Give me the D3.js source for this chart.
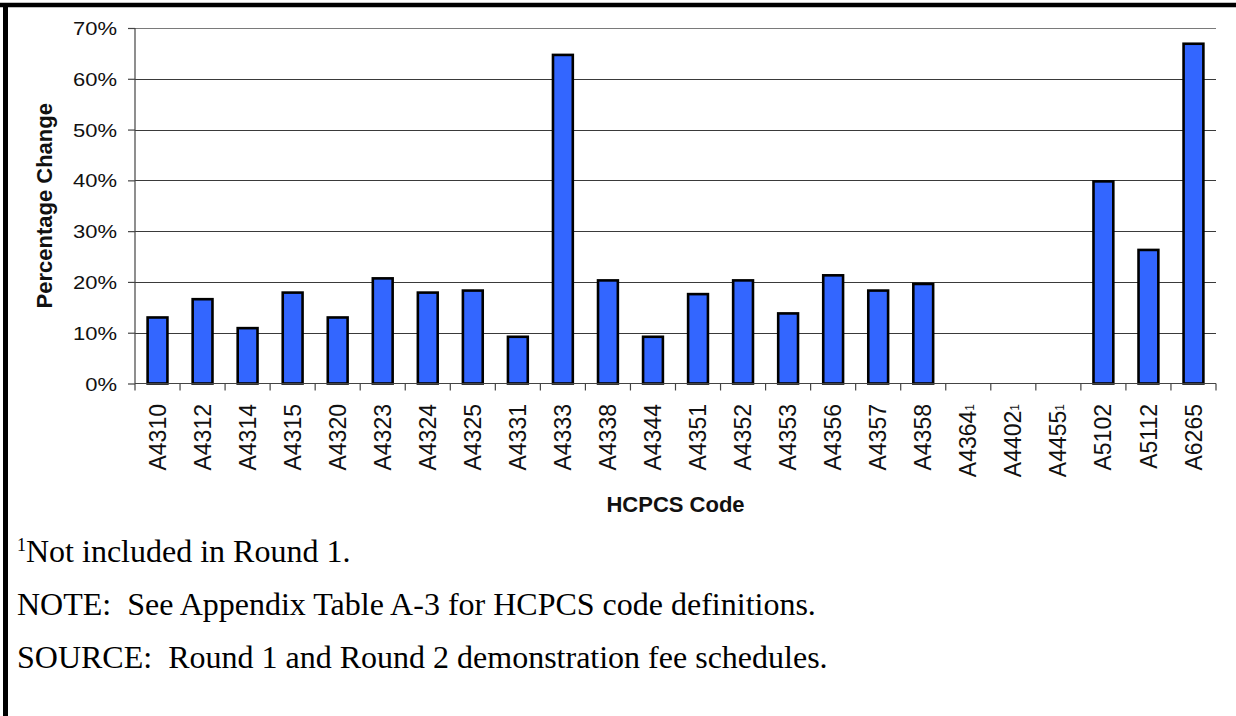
<!DOCTYPE html>
<html>
<head>
<meta charset="utf-8">
<script src="https://cdn.jsdelivr.net/npm/d3@7"></script>
<style>
  html, body { margin: 0; padding: 0; background: #fff; }
  svg { display: block; }
  text { white-space: pre; }
</style>
</head>
<body>
<svg id="chart" width="1236" height="716"></svg>
<script>
// HCPCS codes along the x axis
const codes = ["A4310","A4312","A4314","A4315","A4320","A4323","A4324","A4325","A4331","A4333",
               "A4338","A4344","A4351","A4352","A4353","A4356","A4357","A4358","A4364","A4402",
               "A4455","A5102","A5112","A6265"];
// Codes that carry footnote 1 (no Round 1 value, so no bar)
const notInRound1 = ["A4364","A4402","A4455"];
// Percentage change from Round 1 to Round 2 fee schedule
const pctChange = [13.0,16.6,10.9,17.9,13.0,20.7,17.9,18.3,9.2,64.7,
                   20.3,9.2,17.6,20.3,13.8,21.3,18.3,19.6,null,null,
                   null,39.8,26.3,66.9];
// Y axis tick values (percent)
const yTicks = [0,10,20,30,40,50,60,70];
// Footnote lines
const footnotes = [
  {sup: "1", text: "Not included in Round 1."},
  {sup: "",  text: "NOTE:  See Appendix Table A-3 for HCPCS code definitions."},
  {sup: "",  text: "SOURCE:  Round 1 and Round 2 demonstration fee schedules."}
];

const svg = d3.select("#chart");
const W = 1236, H = 716;
const plot = {left: 135, right: 1216, top: 28, bottom: 383.5};

const x = d3.scaleBand()
  .domain(codes)
  .range([plot.left, plot.right])
  .paddingInner(0.56)
  .paddingOuter(0.28);

const y = d3.scaleLinear()
  .domain([0, 70])
  .range([plot.bottom, plot.top]);

// outer frame (top and left rules)
svg.append("line").attr("x1", 0).attr("x2", W).attr("y1", 5).attr("y2", 5)
  .attr("stroke", "#000").attr("stroke-width", 4.5);
svg.append("line").attr("x1", 5.5).attr("x2", 5.5).attr("y1", 3).attr("y2", H)
  .attr("stroke", "#000").attr("stroke-width", 5);

// horizontal gridlines
svg.append("g")
  .selectAll("line")
  .data(yTicks.filter(d => d > 0))
  .join("line")
  .attr("x1", plot.left).attr("x2", plot.right)
  .attr("y1", d => Math.round(y(d)) + 0.5).attr("y2", d => Math.round(y(d)) + 0.5)
  .attr("stroke", d => d === 70 ? "#7a7a7a" : "#3a3a3a")
  .attr("stroke-width", 1.2);

// y axis
const yAxis = d3.axisLeft(y).tickValues(yTicks).tickSize(7).tickPadding(11)
  .tickFormat(d => d + "%");
const gy = svg.append("g").attr("transform", `translate(${plot.left},0)`).call(yAxis);
gy.select(".domain").attr("stroke", "#444").attr("stroke-width", 1.2).attr("d", `M0,${plot.top}V${plot.bottom}`);
gy.selectAll(".tick line").attr("stroke", "#444").attr("stroke-width", 1.2);
gy.selectAll(".tick text")
  .attr("font-family", "Liberation Sans, Arial, sans-serif")
  .attr("font-size", 22)
  .attr("fill", "#111")
  .attr("x", null)
  .attr("dy", "0.36em")
  // labels are slightly compressed vertically
  .attr("transform", "translate(-18,0) scale(1,0.82)");

// bars
svg.append("g")
  .selectAll("rect")
  .data(codes.map((c, i) => ({code: c, v: pctChange[i]})).filter(d => d.v !== null))
  .join("rect")
  .attr("x", d => x(d.code))
  .attr("width", x.bandwidth())
  .attr("y", d => y(d.v))
  .attr("height", d => y(0) - y(d.v))
  .attr("fill", "#3366ff")
  .attr("stroke", "#000")
  .attr("stroke-width", 2.6);

// x axis line and boundary ticks
const gx = svg.append("g");
gx.append("line")
  .attr("x1", plot.left).attr("x2", plot.right)
  .attr("y1", plot.bottom).attr("y2", plot.bottom)
  .attr("stroke", "#444").attr("stroke-width", 1.2);
const bounds = codes.map(c => x(c) - x.step() * x.paddingInner() / 2).concat([plot.right]);
gx.selectAll("line.tk")
  .data(bounds)
  .join("line")
  .attr("class", "tk")
  .attr("x1", d => d).attr("x2", d => d)
  .attr("y1", plot.bottom).attr("y2", plot.bottom + 7)
  .attr("stroke", "#444").attr("stroke-width", 1.2);

// rotated category labels
const lbl = gx.selectAll("text.cat")
  .data(codes)
  .join("text")
  .attr("class", "cat")
  .attr("transform", d => `translate(${x(d) + x.bandwidth() / 2},404) rotate(-90)`)
  .attr("text-anchor", "end")
  .attr("dy", "0.35em")
  .attr("font-family", "Liberation Sans, Arial, sans-serif")
  .attr("font-size", 23)
  .attr("fill", "#111");
lbl.append("tspan").text(d => d);
lbl.filter(d => notInRound1.includes(d))
  .append("tspan")
  .attr("font-size", 12)
  .attr("dy", "-0.2em")
  .text("1");

// axis titles
svg.append("text")
  .attr("x", (plot.left + plot.right) / 2)
  .attr("y", 512)
  .attr("text-anchor", "middle")
  .attr("font-family", "Liberation Sans, Arial, sans-serif")
  .attr("font-weight", "bold")
  .attr("font-size", 22)
  .attr("fill", "#111")
  .text("HCPCS Code");

svg.append("text")
  .attr("transform", `translate(52,${(plot.top + plot.bottom) / 2}) rotate(-90)`)
  .attr("text-anchor", "middle")
  .attr("font-family", "Liberation Sans, Arial, sans-serif")
  .attr("font-weight", "bold")
  .attr("font-size", 22)
  .attr("fill", "#111")
  .text("Percentage Change");

// footnotes
const fn = svg.append("g")
  .selectAll("text")
  .data(footnotes)
  .join("text")
  .attr("x", 17)
  .attr("y", (d, i) => 562 + i * 53)
  .attr("font-family", "Liberation Serif, Times New Roman, serif")
  .attr("font-size", 32)
  .attr("fill", "#000");
fn.filter(d => d.sup)
  .append("tspan")
  .attr("font-size", 18)
  .attr("dy", "-0.6em")
  .text(d => d.sup);
fn.append("tspan")
  .attr("dy", d => d.sup ? "0.34em" : null)
  .text(d => d.text);
</script>
</body>
</html>
